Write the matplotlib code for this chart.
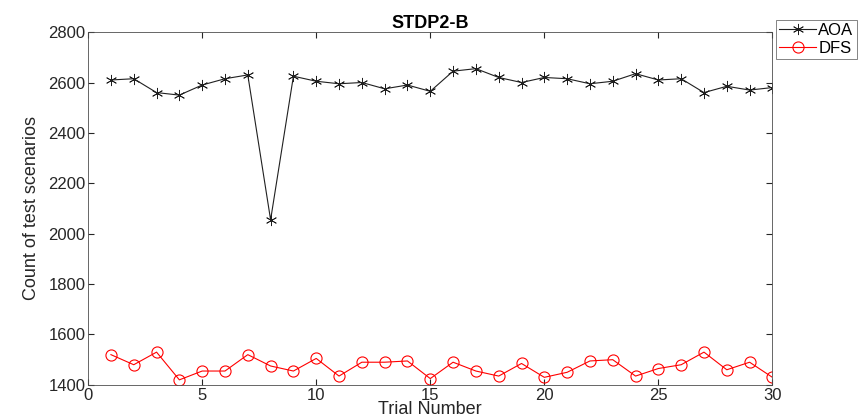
import matplotlib
matplotlib.use('Agg')
import matplotlib.pyplot as plt

plt.rcParams['font.family'] = ['Liberation Sans', 'DejaVu Sans']

trials = list(range(1, 31))
aoa = [2610, 2615, 2560, 2550, 2590, 2615, 2630, 2055, 2625, 2605,
       2595, 2600, 2575, 2590, 2565, 2645, 2655, 2620, 2600, 2620,
       2615, 2595, 2605, 2635, 2610, 2615, 2560, 2585, 2570, 2580]
dfs = [1520, 1480, 1530, 1420, 1455, 1455, 1520, 1475, 1455, 1505,
       1435, 1490, 1490, 1495, 1425, 1490, 1455, 1435, 1485, 1430,
       1450, 1495, 1500, 1435, 1465, 1480, 1530, 1460, 1490, 1430]
xticks = [0, 5, 10, 15, 20, 25, 30]
yticks = [1400, 1600, 1800, 2000, 2200, 2400, 2600, 2800]

fig = plt.figure(figsize=(8.64, 4.17), dpi=100)
ax = fig.add_axes([0.102, 0.077, 0.792, 0.846])

ax.plot(trials, aoa, color='#202020', marker=(6, 2, 0), markersize=8,
        linewidth=0.8, markeredgewidth=0.6, label='AOA')
ax.plot(trials, dfs, color='red', marker='o', markersize=8, linewidth=0.8,
        markerfacecolor='none', markeredgewidth=0.8, label='DFS')

ax.set_xlim(0, 30)
ax.set_ylim(1400, 2800)
ax.set_xticks(xticks)
ax.set_yticks(yticks)
ax.tick_params(direction='in', length=4, labelsize=12, colors='#262626',
               top=True, right=True, pad=2)
for s in ax.spines.values():
    s.set_color('#4d4d4d')
    s.set_linewidth(0.6)

ax.set_title('STDP2-B', fontsize=13, fontweight='bold', pad=3)
ax.set_xlabel('Trial Number', fontsize=13, color='#262626', labelpad=-1)
ax.set_ylabel('Count of test scenarios', fontsize=13, color='#262626', labelpad=6)

leg = ax.legend(loc='upper left', bbox_to_anchor=(1.005, 1.035), fontsize=12,
                frameon=True, fancybox=False, edgecolor='#4d4d4d',
                handlelength=2.2, borderpad=0.2, labelspacing=0.15,
                handletextpad=0.15, borderaxespad=0)
leg.get_frame().set_linewidth(0.6)

fig.savefig('out.png', dpi=100)
